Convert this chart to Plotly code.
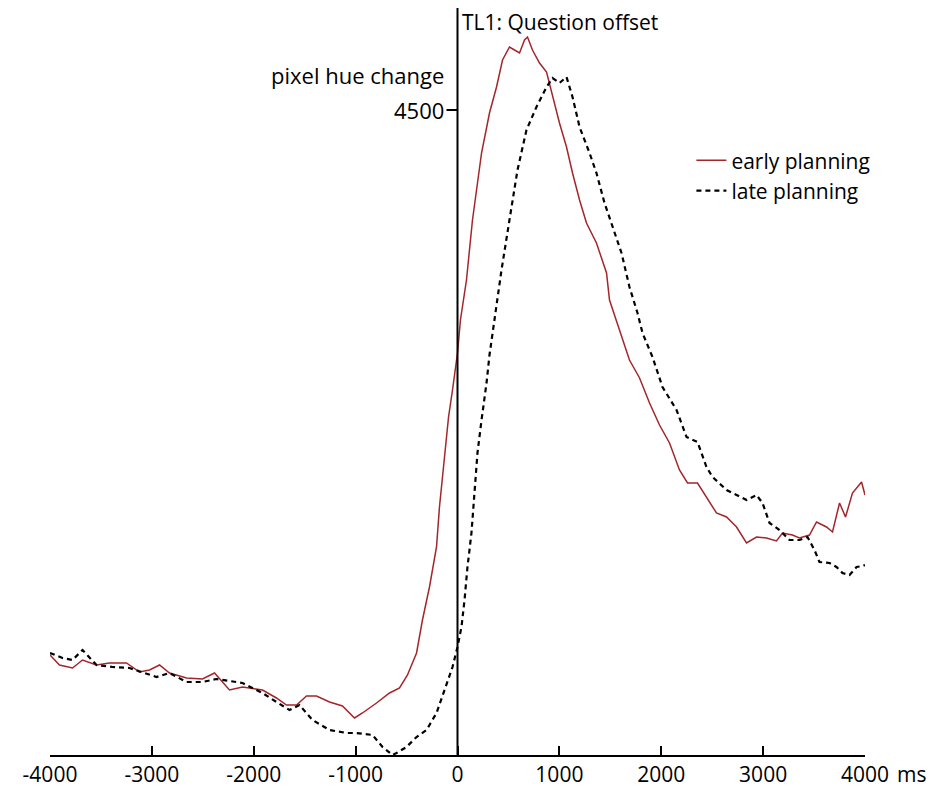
import plotly.graph_objects as go

# early planning (red), time in ms, pixel hue change
early_t = [-4000, -3907, -3779, -3681, -3544, -3416, -3249, -3122, -3023, -2925,
           -2827, -2660, -2503, -2385, -2238, -2110, -1914, -1777, -1679, -1580,
           -1482, -1384, -1256, -1129, -1011, -933, -795, -667, -569, -491,
           -402, -344, -275, -206, -177, -128, -88, -49, 0, 29,
           88, 147, 236, 314, 383, 442, 510, 560, 609, 658,
           687, 736, 805, 874, 933, 1001, 1070, 1129, 1198, 1266,
           1364, 1463, 1492, 1590, 1688, 1787, 1885, 1983, 2081, 2179,
           2258, 2356, 2444, 2542, 2641, 2739, 2837, 2935, 3033, 3131,
           3190, 3288, 3357, 3455, 3524, 3622, 3681, 3750, 3809, 3877,
           3966, 4000]
early_v = [1775, 1725, 1710, 1750, 1725, 1735, 1735, 1690, 1700, 1725,
           1685, 1660, 1655, 1685, 1600, 1615, 1600, 1560, 1525, 1525,
           1570, 1570, 1540, 1520, 1460, 1485, 1535, 1585, 1610, 1675,
           1785, 1950, 2115, 2315, 2515, 2750, 2965, 3100, 3285, 3450,
           3650, 3950, 4285, 4485, 4615, 4750, 4815, 4800, 4785, 4850,
           4865, 4800, 4735, 4690, 4565, 4435, 4315, 4185, 4050, 3935,
           3835, 3685, 3550, 3400, 3250, 3160, 3035, 2925, 2835, 2700,
           2635, 2635, 2565, 2485, 2465, 2415, 2335, 2365, 2360, 2345,
           2385, 2375, 2360, 2375, 2440, 2415, 2390, 2535, 2465, 2585,
           2640, 2575]

# late planning (black dashed)
late_t = [-4000, -3877, -3779, -3681, -3544, -3387, -3220, -2955, -2827, -2660,
          -2503, -2366, -2110, -1914, -1777, -1649, -1551, -1423, -1256, -1090,
          -991, -834, -736, -638, -599, -501, -402, -304, -206, -128,
          -49, 0, 39, 69, 98, 137, 167, 196, 236, 285,
          314, 363, 432, 510, 589, 677, 775, 874, 933, 1001,
          1070, 1129, 1198, 1296, 1364, 1443, 1521, 1610, 1688, 1767,
          1816, 1914, 2012, 2150, 2248, 2356, 2444, 2503, 2641, 2739,
          2837, 2935, 2994, 3063, 3161, 3259, 3357, 3436, 3504, 3553,
          3652, 3720, 3779, 3848, 3917, 3976, 4000]
late_v = [1785, 1760, 1750, 1800, 1725, 1715, 1710, 1665, 1685, 1640,
          1640, 1655, 1635, 1585, 1540, 1500, 1525, 1450, 1400, 1385,
          1385, 1375, 1315, 1275, 1285, 1315, 1365, 1400, 1485, 1600,
          1715, 1815, 1915, 2050, 2215, 2385, 2585, 2785, 2950, 3135,
          3275, 3450, 3700, 3950, 4200, 4400, 4515, 4615, 4660, 4635,
          4665, 4565, 4415, 4285, 4185, 4035, 3915, 3785, 3615, 3485,
          3385, 3265, 3115, 3000, 2865, 2840, 2715, 2665, 2600, 2575,
          2550, 2575, 2535, 2435, 2400, 2350, 2350, 2365, 2300, 2240,
          2235, 2215, 2185, 2175, 2215, 2220, 2225]

x_ticks = [-4000, -3000, -2000, -1000, 0, 1000, 2000, 3000, 4000]
y_tick = 4500
y_range = [1275, 5010]

FONT = "Open Sans, sans-serif"

fig = go.Figure()
fig.add_trace(go.Scatter(
    x=early_t, y=early_v, mode="lines", name="early planning",
    line=dict(color="#a3262a", width=1.5),
))
fig.add_trace(go.Scatter(
    x=late_t, y=late_v, mode="lines", name="late planning",
    line=dict(color="black", width=2.2, dash="5px,4px"),
    cliponaxis=False,
))

# vertical axis at t = 0
fig.add_shape(type="line", xref="x", yref="paper", x0=0, x1=0, y0=0, y1=1,
              line=dict(color="black", width=2))
# 4500 tick pointing left
fig.add_shape(type="line", xref="x", yref="y", xsizemode="pixel", xanchor=0,
              x0=-11, x1=0, y0=y_tick, y1=y_tick,
              line=dict(color="black", width=2))
fig.add_annotation(x=0, y=y_tick, text=str(y_tick), showarrow=False,
                   xanchor="right", xshift=-12, font=dict(size=22))
fig.add_annotation(x=0, y=4675, text="pixel hue change", showarrow=False,
                   xanchor="right", xshift=-12, font=dict(size=22))
fig.add_annotation(x=0, y=4942, text="TL1: Question offset", showarrow=False,
                   xanchor="left", xshift=2, font=dict(size=21))
fig.add_annotation(x=4000, y=0, yref="paper", text="ms", showarrow=False,
                   xanchor="left", yanchor="top", xshift=30, yshift=-3,
                   font=dict(size=21))

# page body has an 8px margin, so the figure is sized to the remaining space
fig.update_layout(
    width=935, height=779,
    margin=dict(l=42, r=78, t=0, b=32),
    paper_bgcolor="white", plot_bgcolor="white",
    font=dict(family=FONT, size=21, color="black"),
    showlegend=True,
    legend=dict(x=0.787, y=0.823, xanchor="left", yanchor="top",
                bgcolor="rgba(0,0,0,0)", font=dict(size=21),
                tracegroupgap=0),
    xaxis=dict(range=[-4000, 4000], tickvals=x_ticks,
               ticktext=[str(v) for v in x_ticks],
               showline=True, linecolor="black", linewidth=2,
               ticks="inside", ticklen=9, tickwidth=2, tickcolor="black",
               showgrid=False, zeroline=False, fixedrange=True,
               automargin=False),
    yaxis=dict(range=y_range, visible=False, showgrid=False, zeroline=False,
               automargin=False),
)

fig.write_html("out.html")
